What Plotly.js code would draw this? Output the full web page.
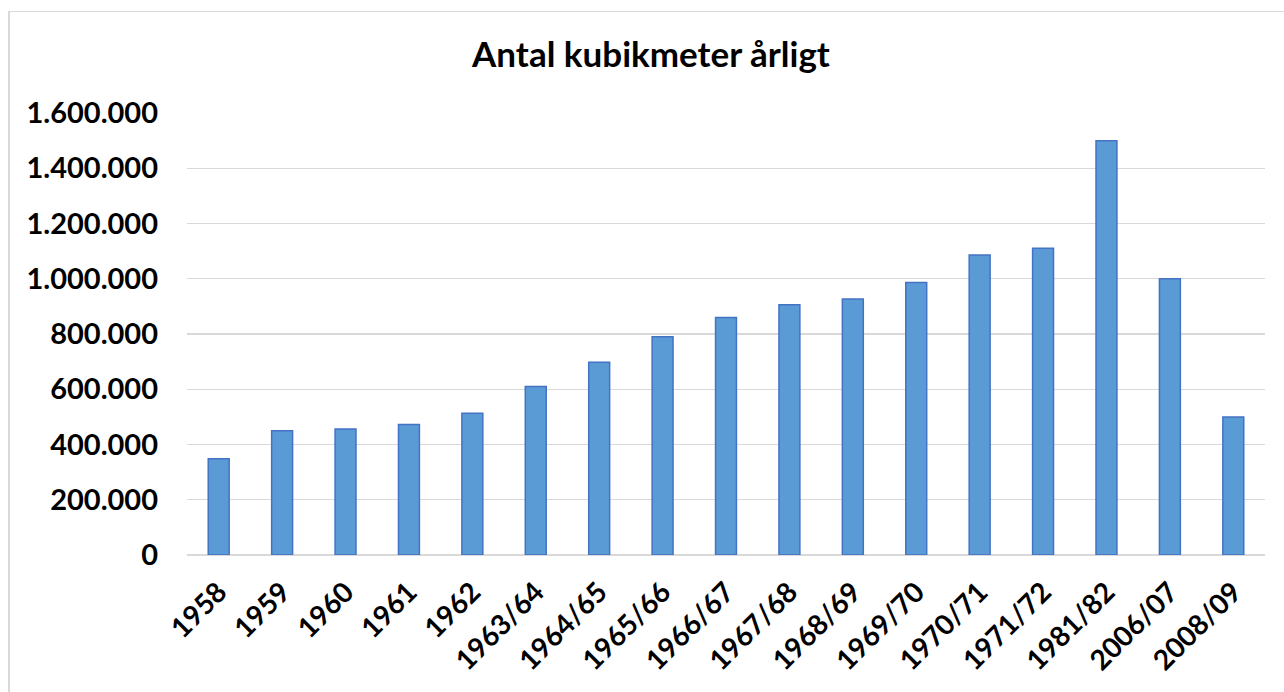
<!DOCTYPE html>
<html>
<head>
<meta charset="utf-8">
<script src="https://cdn.plot.ly/plotly-3.0.1.min.js"></script>
<style>
  html, body { margin: 0; padding: 0; background: #fff; }
  #wrap { position: relative; width: 1284px; height: 692px; overflow: hidden; }
  #plot { position: absolute; left: 0; top: 0; width: 1284px; height: 692px; }
  #frame { position: absolute; left: 8px; top: 11px; width: 1300px; height: 700px;
           border-left: 2px solid #D9D9D9; border-top: 1px solid #D9D9D9; pointer-events: none; }
</style>
</head>
<body>
<div id="wrap">
  <div id="plot"></div>
  <div id="frame"></div>
</div>
<script>
const categories = ["1958", "1959", "1960", "1961", "1962", "1963/64", "1964/65", "1965/66",
  "1966/67", "1967/68", "1968/69", "1969/70", "1970/71", "1971/72", "1981/82", "2006/07", "2008/09"];
const volumes = [348000, 450000, 456000, 472000, 513000, 610000, 698000, 790000,
  860000, 906000, 927000, 986000, 1086000, 1110000, 1500000, 1000000, 500000];
const yTicks = [0, 200000, 400000, 600000, 800000, 1000000, 1200000, 1400000, 1600000];
const chartTitle = "Antal kubikmeter årligt";

const fontFam = "Lato, 'Open Sans', sans-serif";

const trace = {
  type: "bar",
  x: categories,
  y: volumes,
  marker: { color: "#5B9BD5", line: { color: "#4472C4", width: 1.5 } },
  hoverinfo: "x+y"
};

const layout = {
  width: 1284,
  height: 692,
  margin: { l: 187, r: 19, t: 113, b: 137 },
  paper_bgcolor: "rgba(0,0,0,0)",
  plot_bgcolor: "#ffffff",
  separators: ",.",
  bargap: 0.67,
  showlegend: false,
  title: {
    text: "<b>" + chartTitle + "</b>",
    font: { family: fontFam, size: 35, color: "#000" },
    x: 651 / 1284, xref: "container", xanchor: "center",
    y: 1 - 55 / 692, yref: "container", yanchor: "middle"
  },
  xaxis: {
    type: "category",
    tickangle: -45,
    tickfont: { family: fontFam, size: 28, color: "#000", weight: "bold" },
    showgrid: false,
    showline: false,
    ticks: "",
    ticklabelstandoff: 14,
    fixedrange: true
  },
  yaxis: {
    range: [0, 1600000],
    tickvals: yTicks,
    tickformat: ",d",
    tickfont: { family: fontFam, size: 29, color: "#000", weight: "bold" },
    showgrid: true,
    gridcolor: "#D9D9D9",
    gridwidth: 1.3,
    zeroline: true,
    zerolinecolor: "#D9D9D9",
    zerolinewidth: 1.3,
    showline: false,
    ticks: "",
    ticklabelstandoff: 28,
    fixedrange: true
  }
};

Plotly.newPlot("plot", [trace], layout, { displayModeBar: false, staticPlot: true });
</script>
</body>
</html>
